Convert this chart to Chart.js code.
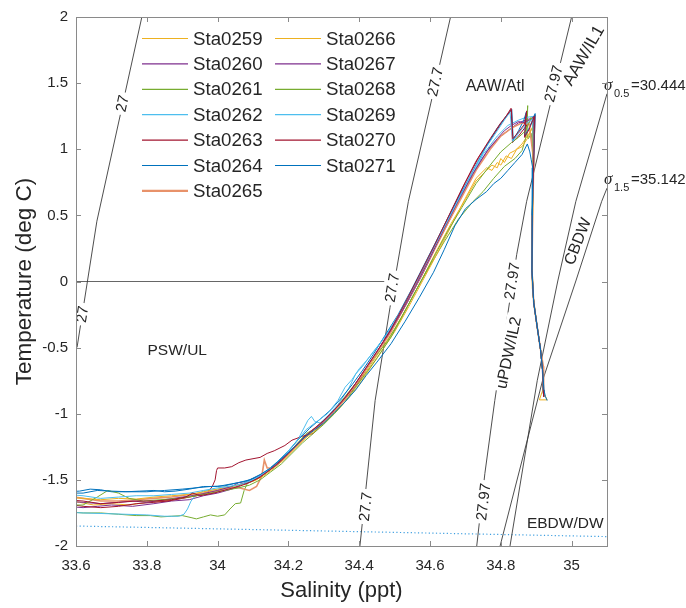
<!DOCTYPE html>
<html>
<head>
<meta charset="utf-8">
<script src="https://cdn.jsdelivr.net/npm/chart.js@4.4.1/dist/chart.umd.min.js"></script>
<style>
  html, body { margin: 0; padding: 0; background: #fff; }
</style>
</head>
<body>
<canvas id="ts" width="686" height="608"></canvas>
<script>
// axis ticks
const xTicks = [33.6, 33.8, 34.0, 34.2, 34.4, 34.6, 34.8, 35.0];
const xTickLabels = ['33.6', '33.8', '34', '34.2', '34.4', '34.6', '34.8', '35'];
const yTicks = [-2, -1.5, -1, -0.5, 0, 0.5, 1, 1.5, 2];
const yTickLabels = ['-2', '-1.5', '-1', '-0.5', '0', '0.5', '1', '1.5', '2'];

const stations = ['Sta0259', 'Sta0260', 'Sta0261', 'Sta0262', 'Sta0263', 'Sta0264', 'Sta0265',
                  'Sta0266', 'Sta0267', 'Sta0268', 'Sta0269', 'Sta0270', 'Sta0271'];

// [salinity, temperature]
const sta0259 = [[33.57,-1.66],[33.61,-1.67],[33.65,-1.69],[33.70,-1.68],[33.75,-1.69],[33.80,-1.67],[33.85,-1.66],[33.90,-1.64],[33.94,-1.62],[33.98,-1.60],[34.02,-1.57],[34.05,-1.55],[34.08,-1.53],[34.11,-1.50],[34.13,-1.46],[34.16,-1.40],[34.19,-1.33],[34.22,-1.25],[34.25,-1.17],[34.28,-1.11],[34.31,-1.04],[34.34,-0.96],[34.37,-0.86],[34.40,-0.76],[34.43,-0.64],[34.46,-0.52],[34.50,-0.36],[34.54,-0.17],[34.58,0.03],[34.62,0.24],[34.66,0.44],[34.70,0.62],[34.73,0.76],[34.76,0.84],[34.775,0.88],[34.79,0.86],[34.80,0.93],[34.81,0.90],[34.825,0.97],[34.84,0.99],[34.86,1.04],[34.88,1.12],[34.893,1.18],[34.891,0.90],[34.889,0.55],[34.888,0.20],[34.889,-0.05],[34.896,-0.22],[34.905,-0.38],[34.913,-0.53],[34.918,-0.67],[34.920,-0.82],[34.921,-0.87]];
const sta0260 = [[33.57,-1.70],[33.62,-1.71],[33.66,-1.70],[33.70,-1.69],[33.76,-1.70],[33.82,-1.68],[33.87,-1.66],[33.92,-1.65],[33.96,-1.62],[34.00,-1.60],[34.04,-1.57],[34.07,-1.53],[34.10,-1.49],[34.13,-1.45],[34.16,-1.39],[34.19,-1.32],[34.22,-1.24],[34.25,-1.16],[34.28,-1.10],[34.31,-1.03],[34.34,-0.95],[34.37,-0.85],[34.40,-0.74],[34.43,-0.62],[34.46,-0.50],[34.50,-0.33],[34.54,-0.14],[34.58,0.06],[34.62,0.28],[34.66,0.49],[34.70,0.70],[34.74,0.90],[34.77,1.02],[34.80,1.10],[34.83,1.16],[34.85,1.20],[34.87,1.22],[34.893,1.24],[34.892,0.92],[34.889,0.50],[34.888,0.10],[34.893,-0.15],[34.902,-0.33],[34.912,-0.51],[34.917,-0.66],[34.920,-0.82],[34.921,-0.87]];
const sta0261 = [[33.57,-1.74],[33.62,-1.75],[33.67,-1.75],[33.72,-1.76],[33.77,-1.77],[33.81,-1.77],[33.84,-1.78],[33.87,-1.775],[33.90,-1.77],[33.925,-1.785],[33.94,-1.795],[33.96,-1.78],[33.98,-1.765],[34.00,-1.775],[34.02,-1.765],[34.035,-1.72],[34.05,-1.68],[34.065,-1.675],[34.075,-1.58],[34.085,-1.52],[34.10,-1.50],[34.13,-1.46],[34.16,-1.39],[34.19,-1.33],[34.22,-1.24],[34.25,-1.15],[34.27,-1.12],[34.30,-1.05],[34.33,-0.97],[34.36,-0.87],[34.39,-0.77],[34.42,-0.66],[34.45,-0.55],[34.48,-0.45],[34.52,-0.27],[34.56,-0.07],[34.60,0.12],[34.64,0.30],[34.68,0.47],[34.72,0.60],[34.75,0.68],[34.78,0.78],[34.81,0.87],[34.84,0.93],[34.86,0.99],[34.87,1.08],[34.873,1.20],[34.876,1.33],[34.874,1.10],[34.878,1.08],[34.886,1.12],[34.892,0.95],[34.889,0.55],[34.888,0.15],[34.892,-0.12],[34.901,-0.31],[34.912,-0.51],[34.918,-0.66],[34.920,-0.83]];
const sta0262 = [[33.57,-1.745],[33.62,-1.75],[33.68,-1.755],[33.74,-1.76],[33.80,-1.765],[33.85,-1.775],[33.89,-1.775],[33.905,-1.76],[33.915,-1.72],[33.925,-1.66],[33.94,-1.61],[33.96,-1.585],[33.99,-1.575],[34.02,-1.56],[34.05,-1.545],[34.08,-1.52],[34.11,-1.49],[34.14,-1.43],[34.17,-1.37],[34.20,-1.29],[34.23,-1.18],[34.255,-1.05],[34.265,-1.02],[34.275,-1.06],[34.29,-1.07],[34.31,-1.02],[34.34,-0.93],[34.37,-0.81],[34.39,-0.70],[34.41,-0.64],[34.44,-0.53],[34.47,-0.43],[34.51,-0.27],[34.55,-0.07],[34.59,0.14],[34.63,0.36],[34.67,0.56],[34.71,0.76],[34.75,0.96],[34.79,1.10],[34.82,1.18],[34.85,1.22],[34.87,1.24],[34.895,1.25],[34.892,0.92],[34.889,0.50],[34.888,0.10],[34.893,-0.16],[34.903,-0.34],[34.912,-0.51],[34.918,-0.67],[34.920,-0.82],[34.921,-0.86]];
const sta0263 = [[33.57,-1.68],[33.62,-1.70],[33.67,-1.71],[33.72,-1.70],[33.77,-1.68],[33.82,-1.67],[33.86,-1.66],[33.90,-1.64],[33.94,-1.62],[33.97,-1.60],[33.985,-1.55],[33.993,-1.50],[33.997,-1.43],[34.00,-1.41],[34.02,-1.41],[34.04,-1.40],[34.06,-1.37],[34.08,-1.35],[34.10,-1.34],[34.12,-1.33],[34.14,-1.30],[34.16,-1.28],[34.19,-1.24],[34.21,-1.20],[34.24,-1.17],[34.27,-1.15],[34.29,-1.09],[34.31,-1.03],[34.33,-0.975],[34.35,-0.92],[34.37,-0.86],[34.40,-0.75],[34.43,-0.62],[34.46,-0.49],[34.50,-0.32],[34.54,-0.12],[34.58,0.09],[34.62,0.31],[34.66,0.53],[34.70,0.75],[34.74,0.95],[34.77,1.07],[34.80,1.19],[34.815,1.25],[34.829,1.31],[34.833,1.05],[34.85,1.10],[34.87,1.17],[34.885,1.22],[34.897,1.26],[34.893,0.92],[34.889,0.50],[34.888,0.08],[34.893,-0.16],[34.902,-0.33],[34.912,-0.51],[34.918,-0.67],[34.920,-0.82],[34.921,-0.87]];
const sta0264 = [[33.57,-1.59],[33.61,-1.585],[33.64,-1.57],[33.67,-1.575],[33.70,-1.59],[33.74,-1.59],[33.78,-1.585],[33.82,-1.58],[33.85,-1.59],[33.88,-1.585],[33.92,-1.57],[33.96,-1.55],[34.00,-1.55],[34.04,-1.53],[34.08,-1.51],[34.11,-1.48],[34.14,-1.43],[34.17,-1.36],[34.20,-1.28],[34.23,-1.19],[34.26,-1.11],[34.29,-1.04],[34.32,-0.97],[34.35,-0.88],[34.38,-0.78],[34.41,-0.67],[34.44,-0.55],[34.47,-0.42],[34.51,-0.25],[34.55,-0.05],[34.59,0.16],[34.63,0.37],[34.67,0.58],[34.71,0.78],[34.75,0.98],[34.79,1.16],[34.81,1.23],[34.831,1.30],[34.835,1.07],[34.85,1.14],[34.865,1.22],[34.872,1.28],[34.867,1.10],[34.88,1.16],[34.897,1.27],[34.893,0.92],[34.889,0.50],[34.888,0.06],[34.893,-0.16],[34.902,-0.32],[34.912,-0.51],[34.918,-0.67],[34.920,-0.82],[34.921,-0.87]];
const sta0265 = [[33.57,-1.62],[33.62,-1.64],[33.67,-1.66],[33.72,-1.66],[33.77,-1.65],[33.82,-1.64],[33.87,-1.63],[33.92,-1.61],[33.96,-1.60],[34.00,-1.58],[34.03,-1.56],[34.06,-1.56],[34.09,-1.58],[34.11,-1.55],[34.125,-1.47],[34.132,-1.35],[34.14,-1.41],[34.155,-1.41],[34.18,-1.36],[34.21,-1.28],[34.24,-1.20],[34.27,-1.12],[34.30,-1.06],[34.33,-0.98],[34.36,-0.89],[34.39,-0.78],[34.42,-0.66],[34.45,-0.54],[34.49,-0.38],[34.53,-0.18],[34.57,0.02],[34.61,0.23],[34.65,0.44],[34.69,0.64],[34.73,0.84],[34.77,1.00],[34.80,1.10],[34.83,1.16],[34.86,1.20],[34.88,1.19],[34.893,0.92],[34.890,0.50],[34.888,0.08],[34.893,-0.16],[34.902,-0.33],[34.912,-0.51],[34.920,-0.64],[34.922,-0.75],[34.920,-0.83]];
const sta0266 = [[33.57,-1.63],[33.62,-1.64],[33.67,-1.65],[33.72,-1.64],[33.77,-1.645],[33.82,-1.63],[33.87,-1.62],[33.92,-1.61],[33.96,-1.59],[34.00,-1.57],[34.04,-1.55],[34.07,-1.53],[34.10,-1.51],[34.13,-1.47],[34.16,-1.41],[34.19,-1.34],[34.22,-1.26],[34.25,-1.18],[34.28,-1.12],[34.31,-1.05],[34.34,-0.97],[34.37,-0.88],[34.40,-0.78],[34.43,-0.66],[34.46,-0.54],[34.50,-0.38],[34.54,-0.19],[34.58,0.01],[34.62,0.21],[34.66,0.42],[34.70,0.63],[34.73,0.78],[34.76,0.86],[34.775,0.84],[34.79,0.90],[34.80,0.88],[34.815,0.95],[34.83,0.93],[34.845,1.00],[34.86,1.02],[34.875,1.08],[34.89,1.17],[34.893,0.92],[34.890,0.50],[34.888,0.10],[34.893,-0.16],[34.902,-0.33],[34.912,-0.51],[34.918,-0.67],[34.920,-0.81],[34.909,-0.895],[34.931,-0.895],[34.921,-0.84]];
const sta0267 = [[33.57,-1.66],[33.62,-1.67],[33.67,-1.68],[33.72,-1.67],[33.76,-1.66],[33.80,-1.67],[33.85,-1.65],[33.90,-1.63],[33.95,-1.61],[34.00,-1.58],[34.04,-1.55],[34.06,-1.52],[34.08,-1.53],[34.11,-1.49],[34.14,-1.44],[34.17,-1.38],[34.20,-1.30],[34.23,-1.22],[34.26,-1.14],[34.29,-1.08],[34.32,-1.00],[34.35,-0.91],[34.38,-0.81],[34.41,-0.69],[34.44,-0.57],[34.48,-0.41],[34.52,-0.23],[34.56,-0.03],[34.60,0.18],[34.64,0.40],[34.68,0.61],[34.72,0.81],[34.76,0.98],[34.79,1.08],[34.81,1.14],[34.83,1.18],[34.85,1.21],[34.862,1.20],[34.88,1.22],[34.894,1.24],[34.892,0.92],[34.889,0.50],[34.888,0.08],[34.893,-0.16],[34.902,-0.33],[34.912,-0.51],[34.918,-0.67],[34.920,-0.82],[34.921,-0.87]];
const sta0268 = [[33.57,-1.69],[33.62,-1.69],[33.66,-1.63],[33.69,-1.58],[33.72,-1.60],[33.75,-1.64],[33.79,-1.66],[33.84,-1.65],[33.89,-1.64],[33.94,-1.62],[33.98,-1.60],[34.02,-1.58],[34.06,-1.56],[34.09,-1.54],[34.12,-1.50],[34.15,-1.44],[34.18,-1.38],[34.21,-1.30],[34.24,-1.22],[34.27,-1.15],[34.30,-1.08],[34.33,-1.00],[34.36,-0.91],[34.39,-0.80],[34.42,-0.69],[34.45,-0.58],[34.49,-0.42],[34.53,-0.22],[34.57,-0.02],[34.61,0.18],[34.65,0.38],[34.69,0.56],[34.73,0.74],[34.77,0.88],[34.80,0.98],[34.83,1.05],[34.85,1.09],[34.87,1.14],[34.88,1.20],[34.885,1.24],[34.890,1.22],[34.892,0.92],[34.889,0.50],[34.888,0.08],[34.893,-0.16],[34.902,-0.33],[34.912,-0.51],[34.918,-0.67],[34.920,-0.82],[34.921,-0.87]];
const sta0269 = [[33.57,-1.61],[33.62,-1.62],[33.67,-1.64],[33.72,-1.63],[33.77,-1.62],[33.82,-1.62],[33.87,-1.61],[33.92,-1.60],[33.96,-1.58],[34.00,-1.56],[34.03,-1.55],[34.07,-1.53],[34.10,-1.50],[34.13,-1.45],[34.16,-1.39],[34.19,-1.31],[34.22,-1.22],[34.25,-1.12],[34.28,-1.06],[34.31,-1.00],[34.34,-0.90],[34.36,-0.80],[34.38,-0.74],[34.40,-0.66],[34.42,-0.60],[34.45,-0.50],[34.48,-0.39],[34.52,-0.21],[34.56,-0.01],[34.60,0.20],[34.64,0.41],[34.68,0.62],[34.72,0.83],[34.76,1.02],[34.79,1.14],[34.81,1.22],[34.826,1.28],[34.834,1.06],[34.85,1.12],[34.87,1.19],[34.89,1.23],[34.893,0.92],[34.889,0.50],[34.888,0.08],[34.893,-0.16],[34.902,-0.33],[34.912,-0.51],[34.918,-0.67],[34.920,-0.82],[34.921,-0.87]];
const sta0270 = [[33.57,-1.65],[33.62,-1.66],[33.67,-1.68],[33.72,-1.67],[33.77,-1.66],[33.82,-1.66],[33.87,-1.65],[33.91,-1.63],[33.93,-1.60],[33.95,-1.62],[33.99,-1.60],[34.03,-1.57],[34.06,-1.55],[34.09,-1.52],[34.12,-1.48],[34.15,-1.42],[34.18,-1.35],[34.21,-1.27],[34.24,-1.19],[34.27,-1.12],[34.30,-1.05],[34.33,-0.97],[34.36,-0.88],[34.39,-0.77],[34.42,-0.65],[34.45,-0.53],[34.49,-0.36],[34.53,-0.16],[34.57,0.05],[34.61,0.26],[34.65,0.48],[34.69,0.70],[34.73,0.91],[34.77,1.08],[34.80,1.20],[34.83,1.30],[34.834,1.08],[34.85,1.13],[34.867,1.19],[34.873,1.29],[34.867,1.09],[34.88,1.15],[34.895,1.25],[34.893,0.92],[34.889,0.50],[34.888,0.08],[34.893,-0.16],[34.902,-0.33],[34.912,-0.51],[34.918,-0.67],[34.920,-0.82],[34.921,-0.87]];
const sta0271 = [[33.57,-1.60],[33.62,-1.60],[33.66,-1.58],[33.70,-1.585],[33.75,-1.59],[33.80,-1.59],[33.85,-1.58],[33.90,-1.57],[33.94,-1.56],[33.98,-1.55],[34.02,-1.545],[34.06,-1.52],[34.09,-1.50],[34.12,-1.46],[34.15,-1.41],[34.18,-1.34],[34.21,-1.27],[34.24,-1.19],[34.27,-1.13],[34.30,-1.07],[34.33,-0.99],[34.36,-0.91],[34.39,-0.82],[34.42,-0.71],[34.45,-0.61],[34.49,-0.47],[34.53,-0.30],[34.57,-0.12],[34.61,0.07],[34.64,0.24],[34.67,0.42],[34.70,0.55],[34.73,0.62],[34.76,0.68],[34.78,0.74],[34.80,0.78],[34.82,0.84],[34.84,0.90],[34.86,0.96],[34.875,1.04],[34.882,0.98],[34.886,0.92],[34.890,0.86],[34.889,0.50],[34.888,0.08],[34.893,-0.16],[34.902,-0.33],[34.912,-0.51],[34.918,-0.67],[34.922,-0.82],[34.926,-0.87],[34.931,-0.90]];

const profiles = [sta0259, sta0260, sta0261, sta0262, sta0263, sta0264, sta0265,
                  sta0266, sta0267, sta0268, sta0269, sta0270, sta0271];

// isopycnals and reference lines
const iso27 = [[33.786, 2.0], [33.659, 0.456], [33.603, -0.498]];
const iso277 = [[34.658, 2.0], [34.539, 0.606], [34.487, -0.197], [34.445, -0.9], [34.402, -2.0]];
const iso2797 = [[35.0, 2.0], [34.944, 1.384], [34.873, 0.606], [34.845, 0.205], [34.783, -0.9], [34.755, -1.452], [34.732, -2.0]];
const sigma05 = [[35.1, 1.42], [35.012, 0.606], [34.961, 0.004], [34.903, -0.749], [34.826, -2.0]];
const sigma15 = [[35.1, 0.706], [35.085, 0.606], [35.012, 0.004], [34.918, -0.749], [34.798, -2.0]];
const zeroLine = [[33.6, 0], [34.49, 0]];
const freezeLine = [[33.6, -1.849], [35.1, -1.929]];

const colors = ['#EDB120', '#7E2F8E', '#77AC30', '#4DBEEE', '#A2142F', '#0072BD', '#E8926A',
                '#EDB120', '#7E2F8E', '#77AC30', '#4DBEEE', '#A2142F', '#0072BD'];

const FONT = '"Liberation Sans", Arial, Helvetica, sans-serif';
const TXT = '#262626';

const toXY = arr => arr.map(p => ({x: p[0], y: p[1]}));

const datasets = profiles.map((p, i) => ({
    label: stations[i],
    data: toXY(p),
    showLine: true,
    borderColor: colors[i],
    borderWidth: i === 6 ? 1.6 : 1,
    pointRadius: 0,
    order: 100 - i
}));

function refLine(data, color, width, dash) {
    return {
        label: '',
        data: toXY(data),
        showLine: true,
        borderColor: color,
        borderWidth: width,
        borderDash: dash || [],
        pointRadius: 0,
        order: 500
    };
}
datasets.push(refLine(iso27, '#3a3a3a', 0.9));
datasets.push(refLine(iso277, '#3a3a3a', 0.9));
datasets.push(refLine(iso2797, '#3a3a3a', 0.9));
datasets.push(refLine(sigma05, '#3a3a3a', 0.9));
datasets.push(refLine(sigma15, '#3a3a3a', 0.9));
datasets.push(refLine(zeroLine, '#555555', 0.9));
datasets.push(refLine(freezeLine, '#3f9fe0', 1.2, [1.2, 2.4]));

// annotation text, placed in data coordinates
const contourLabels = [
    {text: '27', s: 33.73, t: 1.346, angle: -77.6},
    {text: '27', s: 33.617, t: -0.247, angle: -81},
    {text: '27.7', s: 34.614, t: 1.51, angle: -77},
    {text: '27.7', s: 34.492, t: -0.047, angle: -80.3},
    {text: '27.7', s: 34.417, t: -1.703, angle: -84},
    {text: '27.97', s: 34.948, t: 1.497, angle: -76},
    {text: '27.97', s: 34.831, t: 0.004, angle: -81.6},
    {text: '27.97', s: 34.75, t: -1.666, angle: -83.5}
];
const waterMasses = [
    {text: 'AAW/Atl', s: 34.784, t: 1.48, angle: 0, size: 16, bg: false},
    {text: 'AAW/IL1', s: 35.033, t: 1.711, angle: -60, size: 17, bg: false},
    {text: 'PSW/UL', s: 33.886, t: -0.516, angle: 0, size: 15.5, bg: false},
    {text: 'uPDW/IL2', s: 34.821, t: -0.538, angle: -78, size: 16, bg: true},
    {text: 'CBDW', s: 35.016, t: 0.305, angle: -68.6, size: 16, bg: false},
    {text: 'EBDW/DW', s: 34.982, t: -1.821, angle: 0, size: 15.5, bg: false}
];
const sigmaLabels = [
    {sub: '0.5', value: '=30.444', t: 1.446},
    {sub: '1.5', value: '=35.142', t: 0.734}
];

function drawRotated(ctx, text, px, py, angle, size, bg) {
    ctx.save();
    ctx.translate(px, py);
    ctx.rotate(angle * Math.PI / 180);
    ctx.font = size + 'px ' + FONT;
    const w = ctx.measureText(text).width;
    if (bg) {
        ctx.fillStyle = '#ffffff';
        ctx.fillRect(-w / 2 - 3, -size / 2 - 1, w + 6, size + 2);
    }
    ctx.fillStyle = TXT;
    ctx.textAlign = 'center';
    ctx.textBaseline = 'middle';
    ctx.fillText(text, 0, 1);
    ctx.restore();
}

const decor = {
    id: 'decor',
    afterDatasetsDraw(chart) {
        const {ctx, chartArea: a, scales: {x, y}} = chart;
        ctx.save();
        contourLabels.forEach(l => drawRotated(ctx, l.text, x.getPixelForValue(l.s), y.getPixelForValue(l.t), l.angle, 15, true));
        waterMasses.forEach(l => drawRotated(ctx, l.text, x.getPixelForValue(l.s), y.getPixelForValue(l.t), l.angle, l.size, l.bg));

        // sigma labels right of the box
        sigmaLabels.forEach(l => {
            const by = y.getPixelForValue(l.t);
            const bx = a.right - 3;
            ctx.fillStyle = TXT;
            ctx.textAlign = 'left';
            ctx.textBaseline = 'alphabetic';
            ctx.font = 'italic 17px "Liberation Serif", serif';
            ctx.fillText('σ', bx, by);
            ctx.font = '11px ' + FONT;
            ctx.fillText(l.sub, bx + 10, by + 7);
            ctx.font = '15px ' + FONT;
            ctx.fillText(l.value, bx + 27, by);
        });

        // legend, two columns, no box
        ctx.font = '18.7px ' + FONT;
        ctx.textBaseline = 'middle';
        ctx.textAlign = 'left';
        stations.forEach((name, i) => {
            const col = i < 7 ? 0 : 1;
            const row = i < 7 ? i : i - 7;
            const lx = 142 + col * 133;
            const ly = 38.5 + row * 25.4;
            ctx.strokeStyle = colors[i];
            ctx.lineWidth = i === 6 ? 2.2 : 1.2;
            ctx.beginPath();
            ctx.moveTo(lx, ly);
            ctx.lineTo(lx + 46, ly);
            ctx.stroke();
            ctx.fillStyle = TXT;
            ctx.fillText(name, lx + 51, ly + 1);
        });
        ctx.restore();
    },
    afterDraw(chart) {
        const {ctx, chartArea: a, scales: {x, y}} = chart;
        ctx.save();
        ctx.strokeStyle = '#8a8a8a';
        ctx.lineWidth = 1;
        ctx.strokeRect(Math.round(a.left) + 0.5, Math.round(a.top) + 0.5,
                       Math.round(a.right - a.left), Math.round(a.bottom - a.top));
        ctx.beginPath();
        const tl = 5;
        xTicks.forEach(v => {
            const px = Math.round(x.getPixelForValue(v)) + 0.5;
            ctx.moveTo(px, a.bottom); ctx.lineTo(px, a.bottom - tl);
            ctx.moveTo(px, a.top); ctx.lineTo(px, a.top + tl);
        });
        yTicks.forEach(v => {
            const py = Math.round(y.getPixelForValue(v)) + 0.5;
            ctx.moveTo(a.left, py); ctx.lineTo(a.left + tl, py);
            ctx.moveTo(a.right, py); ctx.lineTo(a.right - tl, py);
        });
        ctx.stroke();
        ctx.restore();
    }
};

new Chart(document.getElementById('ts'), {
    type: 'scatter',
    data: {datasets},
    options: {
        responsive: false,
        animation: false,
        events: [],
        layout: {padding: {left: 0, right: 79, top: 15, bottom: 0}},
        plugins: {legend: {display: false}, tooltip: {enabled: false}},
        scales: {
            x: {
                type: 'linear', min: 33.6, max: 35.1,
                afterBuildTicks: s => { s.ticks = xTicks.map(v => ({value: v})); },
                afterFit: s => { s.height = 62; },
                grid: {display: false, drawTicks: false},
                border: {display: false},
                ticks: {
                    autoSkip: false, maxRotation: 0, padding: 11,
                    color: TXT, font: {family: FONT, size: 15},
                    callback: (v, i) => xTickLabels[i]
                },
                title: {display: true, text: 'Salinity (ppt)', color: TXT,
                        font: {family: FONT, size: 22}, padding: {top: 0, bottom: 4}}
            },
            y: {
                type: 'linear', min: -2, max: 2,
                afterBuildTicks: s => { s.ticks = yTicks.map(v => ({value: v})); },
                afterFit: s => { s.width = 76; },
                grid: {display: false, drawTicks: false},
                border: {display: false},
                ticks: {
                    autoSkip: false, padding: 8,
                    color: TXT, font: {family: FONT, size: 15},
                    callback: (v, i) => yTickLabels[i]
                },
                title: {display: true, text: 'Temperature (deg C)', color: TXT,
                        font: {family: FONT, size: 22.5}, padding: {top: 11, bottom: 0}}
            }
        }
    },
    plugins: [decor]
});
</script>
</body>
</html>
